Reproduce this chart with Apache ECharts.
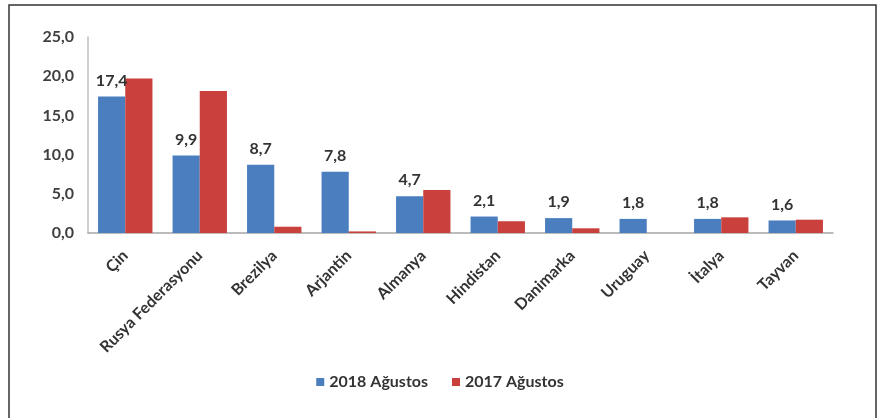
<!DOCTYPE html>
<html>
<head>
<meta charset="utf-8">
<script src="https://cdn.jsdelivr.net/npm/echarts@6/dist/echarts.min.js"></script>
<style>
html,body{margin:0;padding:0;background:#fff;}
#c{width:880px;height:418px;}
</style>
</head>
<body>
<div id="c"></div>
<script>
var categories = ['Çin','Rusya Federasyonu','Brezilya','Arjantin','Almanya','Hindistan','Danimarka','Uruguay','İtalya','Tayvan'];
var values2018 = [17.4, 9.9, 8.7, 7.8, 4.7, 2.1, 1.9, 1.8, 1.8, 1.6];
var values2017 = [19.7, 18.1, 0.8, 0.2, 5.5, 1.5, 0.6, 0, 2.0, 1.7];
var yTicks = [0, 5, 10, 15, 20, 25];
var seriesNames = ['2018 Ağustos', '2017 Ağustos'];

var FONT = 'Lato';
var fmt = function (v) { return Number(v).toFixed(1).replace('.', ','); };

var chart = echarts.init(document.getElementById('c'), null, {renderer: 'canvas'});
chart.setOption({
  animation: false,
  backgroundColor: '#ffffff',
  textStyle: {fontFamily: FONT},
  graphic: [{
    type: 'rect',
    shape: {x: 9, y: 5, width: 867, height: 430},
    style: {fill: 'none', stroke: '#333333', lineWidth: 1.5},
    silent: true
  }],
  grid: {left: 88, right: 47, top: 37, bottom: 185, containLabel: false},
  legend: {
    data: seriesNames,
    bottom: 23,
    left: 'center',
    itemWidth: 8,
    itemHeight: 8,
    itemGap: 24,
    icon: 'rect',
    textStyle: {fontFamily: FONT, fontWeight: 'bold', fontSize: 16, color: '#333'}
  },
  xAxis: {
    type: 'category',
    data: categories,
    axisLine: {show: true, lineStyle: {color: '#a6a6a6', width: 1.5}},
    axisTick: {show: false},
    axisLabel: {
      rotate: 45,
      interval: 0,
      margin: 20,
      fontFamily: FONT,
      fontWeight: 'bold',
      fontSize: 16,
      color: '#333'
    }
  },
  yAxis: {
    type: 'value',
    min: yTicks[0],
    max: yTicks[yTicks.length - 1],
    interval: 5,
    axisLine: {show: true, lineStyle: {color: '#bfbfbf', width: 1.5}},
    axisTick: {show: false},
    splitLine: {show: false},
    axisLabel: {
      margin: 14,
      fontFamily: FONT,
      fontWeight: 'bold',
      fontSize: 16,
      color: '#404040',
      formatter: fmt
    }
  },
  series: [
    {
      name: seriesNames[0],
      type: 'bar',
      data: values2018,
      barGap: '0%',
      barCategoryGap: '27%',
      itemStyle: {color: '#4A7EBF'},
      label: {
        show: true,
        position: 'top',
        distance: 8,
        fontFamily: FONT,
        fontWeight: 'bold',
        fontSize: 16,
        color: '#333',
        formatter: function (p) { return fmt(p.value); }
      }
    },
    {
      name: seriesNames[1],
      type: 'bar',
      data: values2017,
      barGap: '0%',
      barCategoryGap: '27%',
      itemStyle: {color: '#C9403D'}
    }
  ]
});
</script>
</body>
</html>
